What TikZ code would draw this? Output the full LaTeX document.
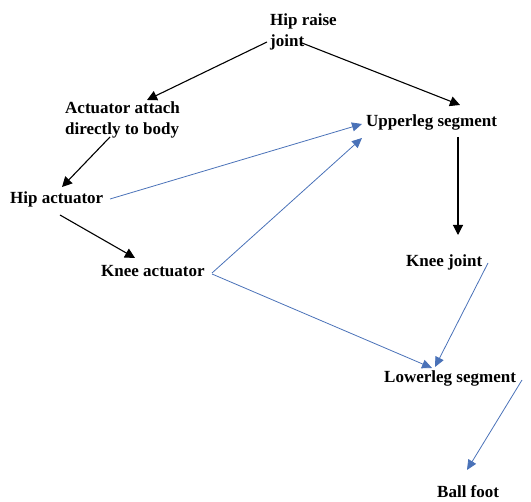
\documentclass[tikz,border=0pt]{standalone}
\usepackage{fontspec}
\setmainfont{Liberation Serif}
\usetikzlibrary{arrows.meta,calc}
\definecolor{linkblue}{HTML}{4A72B8}
\tikzset{
  lbl/.style={font=\bfseries\fontsize{17}{21}\selectfont, inner sep=0pt, align=left},
  blackarrow/.style={draw=black, line width=1.1pt, -{Triangle[length=10pt,width=10pt]}},
  bluearrow/.style={draw=linkblue, line width=0.8pt, -{Triangle[length=10pt,width=9pt]}},
}
\begin{document}
\begin{tikzpicture}[x=1pt,y=-1pt]
\useasboundingbox (0,0) rectangle (531,502);

% labels
\node[lbl, anchor=north west] (hip) at (270,13.5) {Hip raise\\joint};
\node[lbl, anchor=north west] (act) at (65,101.5) {Actuator attach\\directly to body};
\node[lbl, anchor=base west] (up) at (366,127) {Upperleg segment};
\node[lbl, anchor=base west] (ha) at (10,204) {Hip actuator};
\node[lbl, anchor=base west] (ka) at (101,277) {Knee actuator};
\node[lbl, anchor=base west] (kj) at (406,267) {Knee joint};
\node[lbl, anchor=base west] (ll) at (384,383) {Lowerleg segment};
\node[lbl, anchor=base west] (bf) at (437,498) {Ball foot};

% black links
\draw[blackarrow] ($(hip.north west)+(-3,28.5)$) -- ($(act.north west)+(82,-1.5)$);
\draw[blackarrow] ($(hip.north west)+(32,29.5)$) -- ($(up.base west)+(94,-22)$);
\draw[blackarrow] ($(up.base west)+(92,10)$) -- ($(kj.base west)+(52,-32)$);
\draw[blackarrow] ($(act.north west)+(45,35.5)$) -- ($(ha.base west)+(52,-17)$);
\draw[blackarrow] ($(ha.base west)+(50,11)$) -- ($(ka.base west)+(34,-19)$);

% blue links
\draw[bluearrow] ($(ha.base west)+(100,-5)$) -- ($(up.base west)+(-4,-3)$);
\draw[bluearrow] ($(ka.base west)+(111,-4)$) -- ($(up.base west)+(-4,11)$);
\draw[bluearrow] ($(ka.base west)+(111,-3)$) -- ($(ll.base west)+(48,-15)$);
\draw[bluearrow] ($(kj.base west)+(82,-4)$) -- ($(ll.base west)+(51,-16)$);
\draw[bluearrow] ($(ll.base west)+(138,-3)$) -- ($(bf.base west)+(30,-28)$);
\end{tikzpicture}
\end{document}
